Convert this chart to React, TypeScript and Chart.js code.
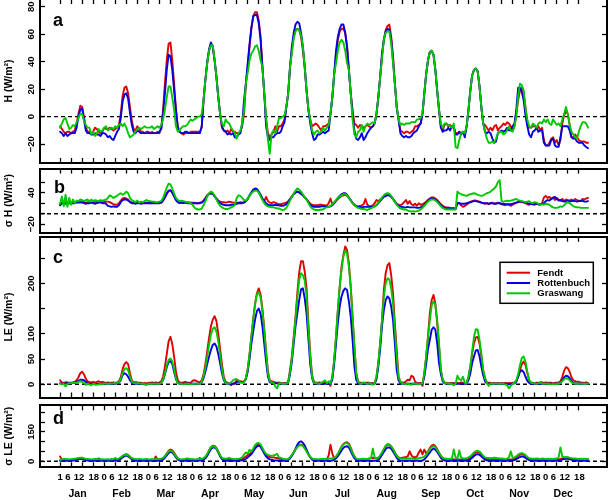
import React, { useEffect, useRef } from 'react';
import { Chart, registerables } from 'chart.js';

Chart.register(...registerables);

// ---------- categories / ticks ----------
const MONTHS = ['Jan', 'Feb', 'Mar', 'Apr', 'May', 'Jun', 'Jul', 'Aug', 'Sep', 'Oct', 'Nov', 'Dec'];
const HOUR_TICKS = [0, 6, 12, 18];
const HOUR_LABELS = ['0', '6', '12', '18'];
const SITES = ['Fendt', 'Rottenbuch', 'Graswang'];

// ---------- panel a: H (W/m2), hourly mean diurnal cycle per month ----------
const H_FENDT = [
  -7,-9,-11,-12,-11,-11,-12,-11,-10,-5,2,8,7,0,-8,-11,-11,-12,-11,-8,-9,-11,-12,-11,
  -8,-9,-9,-8,-9,-10,-9,-8,-6,2,15,21,22,17,7,-3,-9,-10,-7,-9,-11,-11,-12,-11,
  -11,-12,-11,-12,-12,-11,-12,-8,5,24,41,53,54,41,24,5,-7,-11,-12,-13,-12,-12,-12,-11,
  -11,-11,-11,-11,-11,-8,12,27,39,48,53,51,41,29,15,2,-8,-10,-11,-10,-12,-9,-11,-11,
  -12,-12,-11,-7,2,24,36,51,64,73,76,76,70,58,36,17,-2,-12,-15,-13,-11,-7,-11,-7,
  -7,-5,-2,7,17,36,48,58,63,64,63,58,48,36,19,5,-2,-7,-6,-5,-6,-8,-10,-7,
  -7,-6,-5,2,14,31,44,56,62,64,64,61,51,34,17,5,-5,-6,-8,-6,-7,-8,-7,-6,
  -7,-8,-7,-5,2,14,29,44,56,63,66,67,58,44,24,7,-2,-10,-11,-12,-11,-11,-12,-11,
  -10,-7,-7,-6,-5,2,17,31,41,47,48,45,34,19,5,-7,-10,-6,-5,-7,-6,-8,-7,-12,
  -12,-11,-12,-11,-13,-7,5,19,30,34,35,33,22,7,-5,-6,-8,-10,-8,-10,-7,-6,-10,-8,
  -7,-5,-6,-4,-5,-7,-10,-7,2,12,19,21,17,7,-5,-8,-8,-7,-7,-8,-7,-10,-8,-17,
  -21,-21,-19,-16,-15,-19,-17,-21,-17,-5,1,4,2,-6,-15,-15,-13,-15,-17,-18,-18,-18,-19,-19,
];
const H_ROTTENBUCH = [
  -11,-12,-14,-12,-14,-13,-12,-12,-12,-8,0,5,6,-2,-10,-12,-12,-13,-13,-12,-13,-13,-14,-12,
  -12,-13,-15,-14,-16,-17,-14,-11,-9,-1,11,16,17,13,3,-6,-11,-12,-10,-11,-12,-12,-12,-12,
  -12,-12,-12,-12,-12,-12,-11,-9,2,17,34,45,44,34,19,5,-8,-11,-12,-12,-11,-11,-12,-12,
  -12,-12,-12,-12,-12,-7,12,27,40,49,54,51,41,29,14,2,-7,-10,-11,-13,-12,-13,-12,-15,
  -15,-13,-12,-5,12,24,39,53,65,73,74,74,68,56,36,17,-7,-15,-17,-15,-15,-13,-12,-12,
  -11,-7,-4,7,17,36,51,61,67,69,68,61,51,36,19,5,-5,-12,-17,-16,-13,-13,-12,-11,
  -12,-11,-10,2,14,31,48,58,64,67,67,61,51,34,17,2,-10,-16,-17,-15,-12,-17,-15,-12,
  -10,-8,-7,-5,2,14,29,46,56,62,64,63,56,41,24,7,-2,-12,-14,-15,-14,-15,-15,-14,
  -12,-11,-10,-7,-5,2,17,31,41,47,48,45,34,19,5,-8,-11,-10,-10,-8,-10,-7,-8,-13,
  -13,-11,-13,-11,-15,-7,5,19,30,34,35,33,22,7,-5,-11,-12,-11,-12,-16,-19,-18,-12,-11,
  -10,-11,-10,-8,-10,-10,-7,-5,5,21,21,18,12,1,-7,-13,-15,-11,-10,-8,-11,-10,-10,-19,
  -21,-21,-21,-17,-16,-21,-22,-22,-15,-7,-7,-7,-7,-10,-15,-16,-16,-18,-19,-19,-19,-21,-22,-23,
];
const H_GRASWANG = [
  -8,-5,-2,-1,-5,-9,-8,-6,-7,-4,-1,2,2,-3,-6,-8,-8,-13,-11,-14,-12,-9,-11,-10,
  -8,-7,-10,-9,-8,-9,-7,-8,-6,-5,-7,-5,-8,-12,-15,-14,-13,-11,-9,-8,-9,-8,-7,-8,
  -8,-8,-7,-9,-8,-7,-8,-6,-2,5,14,22,22,14,5,-7,-11,-10,-8,-7,-7,-6,-4,-2,
  -3,-2,-1,0,0,2,12,27,39,48,52,52,42,29,14,2,-5,-7,-2,-4,-5,-8,-10,-12,
  -16,-12,-10,-5,5,24,32,41,46,48,51,52,48,41,36,17,0,-17,-27,-12,-10,-12,-7,-1,
  -1,0,1,7,17,36,46,57,62,64,63,59,51,36,19,5,-2,-10,-13,-11,-10,-12,-11,-8,
  -10,-8,-6,2,14,31,39,48,54,56,54,48,39,34,17,-2,-13,-15,-11,-10,-6,-11,-7,-5,
  -6,-5,-4,-5,2,14,29,42,56,61,62,62,53,39,24,7,-2,-6,-5,-6,-5,-5,-5,-4,
  -4,-4,-2,-2,-1,2,17,31,41,47,48,45,34,19,5,-5,-8,-5,-5,-6,-7,-8,-5,-22,
  -23,-17,-12,-11,-12,-7,5,19,30,34,35,33,22,7,-5,-11,-16,-19,-19,-18,-19,-16,-12,-11,
  -11,-13,-12,-10,-7,-10,-11,-7,0,15,24,23,19,6,-2,-7,-8,-5,-6,-8,-5,-4,-5,-2,
  -4,-2,-5,-6,-2,-4,-6,-5,-7,-2,2,7,2,-6,-11,-13,-15,-16,-11,-7,-4,-4,-5,-8,
];

// ---------- panel b: sigma H ----------
const SH_FENDT = [
  17,21,22,22,21,21,21,22,21,22,22,23,23,22,21,22,22,21,22,22,22,23,22,22,
  22,23,23,22,20,18,17,17,20,25,29,30,29,27,23,21,21,21,22,21,21,22,21,21,
  20,21,21,20,21,21,20,21,25,31,38,43,44,40,33,27,23,21,22,21,22,21,22,21,
  21,21,20,20,21,22,25,30,35,38,39,38,34,29,25,23,22,22,21,22,23,22,21,21,
  21,21,22,21,22,24,28,34,40,44,46,45,41,35,28,24,32,24,21,20,22,21,19,18,
  18,19,20,21,24,28,33,38,41,42,40,38,35,31,28,23,19,17,16,16,16,17,17,16,
  16,15,20,29,18,20,24,28,31,34,35,36,34,30,25,20,17,15,14,15,16,18,28,17,
  15,14,16,20,26,24,27,30,33,35,36,35,32,28,23,19,17,16,18,22,26,19,24,18,
  16,19,15,20,17,18,20,23,26,29,31,31,29,26,22,18,15,13,12,12,11,11,11,10,
  21,20,16,13,15,17,20,22,24,25,25,24,23,21,20,19,20,18,20,21,19,20,21,20,
  18,17,16,18,17,15,17,19,21,22,23,22,21,20,18,17,19,18,17,19,18,17,20,31,
  34,30,32,28,31,26,30,27,25,28,24,27,26,25,27,24,28,26,25,24,28,27,29,30,
];
const SH_ROTTENBUCH = [
  16,20,19,19,20,20,19,20,20,21,21,21,21,20,19,20,20,21,20,19,20,21,21,20,
  20,19,15,14,13,14,13,13,16,22,26,27,27,25,22,20,20,19,20,20,19,20,20,20,
  20,20,20,20,20,20,20,21,25,31,38,44,45,40,33,26,22,20,21,20,21,20,20,20,
  20,20,20,20,20,21,24,29,34,38,39,38,33,28,24,20,18,17,16,16,16,17,17,17,
  19,20,20,20,21,24,28,35,41,46,48,47,42,36,29,24,20,17,16,16,16,17,16,16,
  15,15,16,18,22,27,32,37,40,42,41,38,35,31,27,22,17,14,13,13,13,13,14,14,
  14,13,13,14,16,20,25,30,34,37,39,39,36,31,26,21,17,14,13,13,12,13,13,13,
  13,13,13,14,16,20,24,28,32,34,35,35,32,28,23,18,15,13,13,12,12,13,12,12,
  12,12,11,11,12,14,17,21,25,28,29,29,27,24,20,16,13,11,10,10,10,9,9,9,
  20,20,19,19,19,20,21,22,23,24,24,23,22,21,20,20,20,19,20,20,19,19,20,20,
  19,19,18,18,18,18,19,20,21,22,23,23,22,21,20,19,19,18,19,19,18,18,19,20,
  24,26,25,28,30,32,28,25,26,24,23,24,25,23,24,25,24,23,24,24,25,23,23,24,
];
const SH_GRASWANG = [
  19,33,14,36,13,30,17,27,20,25,24,27,26,24,26,27,23,27,24,26,25,24,26,25,
  26,27,30,35,33,30,32,34,37,39,36,38,42,39,30,26,24,22,25,21,23,22,24,26,
  24,24,23,23,22,22,23,24,30,40,50,57,56,48,38,30,26,24,25,24,23,22,21,20,
  17,12,9,8,8,10,16,24,33,39,42,40,34,27,20,15,12,10,9,9,10,12,14,16,
  30,35,34,30,26,25,28,34,39,42,44,44,40,33,26,20,16,14,13,12,12,11,10,10,
  8,7,8,11,18,25,32,38,44,48,46,42,37,31,27,20,14,10,8,7,7,7,8,8,
  11,12,13,15,18,22,26,30,33,35,37,37,35,30,25,20,16,13,11,10,9,9,8,7,
  9,10,12,14,17,21,26,31,35,38,39,38,34,28,22,17,13,10,9,8,8,6,5,4,
  5,4,5,6,8,11,15,19,23,26,27,27,25,22,18,14,11,9,8,8,8,8,8,8,
  42,39,37,36,35,34,36,37,38,39,38,36,35,34,35,37,39,40,42,45,48,52,60,64,
  24,23,24,25,24,25,26,27,28,26,25,24,23,22,23,24,21,20,22,21,19,17,18,17,
  19,18,17,14,12,11,11,12,14,13,16,20,22,20,17,14,13,12,12,11,11,11,11,11,
];

// ---------- panel c: LE ----------
const LE_FENDT = [
  8,4,3,4,4,3,3,4,5,8,14,22,25,20,11,6,4,4,5,3,5,6,4,5,
  4,3,4,3,3,4,3,4,6,14,30,40,44,40,22,8,4,4,4,3,3,2,3,2,
  3,3,4,3,4,3,4,6,15,35,60,85,94,80,55,25,8,4,3,4,5,4,3,3,
  7,8,7,5,4,8,20,40,65,92,115,128,135,125,100,70,40,15,5,3,2,-2,1,3,
  8,7,6,5,6,12,30,60,95,130,160,180,190,178,150,110,65,25,8,6,5,4,3,4,
  3,2,3,2,5,28,55,94,134,182,222,244,244,223,190,120,60,18,5,3,3,4,3,3,
  3,2,4,-3,15,48,94,147,193,233,256,273,266,240,193,134,75,22,5,3,3,2,3,3,
  3,2,2,3,15,42,81,127,187,220,236,240,216,180,121,68,15,5,4,3,6,9,8,17,
  15,5,3,2,3,-3,22,55,94,141,167,177,160,121,75,28,9,4,3,2,2,3,2,2,
  3,2,4,3,2,3,15,35,61,81,93,94,81,55,28,12,4,3,3,2,3,2,3,2,
  3,2,3,2,3,2,3,3,6,15,28,40,45,38,22,8,4,3,2,3,3,4,4,3,
  4,3,3,3,2,3,3,4,6,15,27,34,32,25,14,8,6,5,5,4,3,3,4,3,
];
const LE_ROTTENBUCH = [
  2,1,1,2,2,2,2,3,3,5,7,9,9,8,5,2,1,1,1,0,1,1,0,1,
  1,1,1,1,1,1,1,2,3,8,18,22,20,15,8,3,1,1,1,1,1,1,0,0,
  1,1,1,1,1,1,1,3,8,20,34,44,46,40,25,10,3,1,1,1,1,1,1,1,
  1,1,1,1,1,4,12,25,40,55,68,78,81,75,60,42,22,8,2,1,1,1,1,1,
  5,5,4,4,5,10,25,50,80,105,128,145,150,140,115,80,45,15,4,3,2,2,2,1,
  1,1,1,1,3,20,45,80,115,141,167,188,190,170,140,90,40,12,2,1,1,1,1,1,
  1,1,1,1,10,40,80,121,154,174,185,190,187,164,134,88,35,9,2,1,1,1,1,1,
  1,1,1,1,10,35,70,115,147,167,174,170,154,127,81,28,8,2,1,1,1,1,1,1,
  1,1,1,1,1,1,15,40,70,88,108,113,108,81,42,20,6,2,1,1,1,1,1,1,
  1,1,1,1,1,1,8,22,42,55,67,68,55,35,18,6,2,1,1,1,1,1,1,1,
  1,1,1,1,0,1,1,2,5,15,25,28,24,15,7,3,1,1,1,1,1,1,1,1,
  1,1,1,1,1,1,1,1,3,8,14,17,16,12,7,3,2,1,2,1,1,1,2,1,
];
const LE_GRASWANG = [
  1,0,1,-4,1,2,2,3,3,4,5,6,5,3,-1,1,0,-2,1,0,-1,0,1,0,
  2,1,1,2,1,2,2,3,4,10,22,30,32,28,15,5,3,2,2,2,1,1,1,-1,
  1,1,1,1,1,1,1,3,9,22,38,48,51,45,30,12,3,1,1,0,1,1,1,0,
  1,1,1,1,1,5,16,33,55,78,98,110,113,105,85,58,30,10,3,1,2,4,8,10,
  10,8,4,3,5,12,30,60,95,128,158,178,183,172,145,108,62,22,6,4,3,-4,-8,2,
  2,1,1,1,4,25,52,90,130,172,207,220,216,205,175,110,55,15,3,2,2,1,3,5,
  8,2,6,1,15,48,94,147,193,226,253,265,259,233,193,134,75,22,5,2,1,4,2,1,
  2,1,-1,2,15,42,81,127,174,200,210,207,190,160,108,55,15,5,2,1,0,2,0,-1,
  2,1,1,0,1,2,22,55,94,127,157,164,157,127,81,28,9,3,2,1,1,1,-2,1,
  17,10,8,15,3,2,15,35,65,94,109,108,88,61,28,12,3,-3,2,1,1,2,1,1,
  2,1,0,-2,-8,-3,1,3,8,20,38,52,55,45,25,8,3,2,2,1,2,3,2,1,
  1,1,1,0,1,0,1,1,3,6,10,12,11,8,4,2,1,1,2,1,1,1,1,1,
];

// ---------- panel d: sigma LE ----------
const SLE_FENDT = [
  25,8,6,6,7,6,7,8,9,12,15,17,16,13,10,8,7,6,7,8,10,15,8,7,
  7,6,7,6,6,7,8,9,12,18,26,33,37,33,24,15,10,8,7,7,6,7,6,6,
  8,7,8,7,25,9,8,10,15,25,40,54,60,56,44,28,15,9,7,7,8,7,8,7,
  8,7,8,7,17,9,12,20,35,55,72,80,78,68,50,30,15,9,8,10,9,8,9,8,
  8,9,10,12,18,25,32,38,45,58,72,82,85,78,62,45,32,25,22,20,20,18,17,15,
  12,10,9,8,10,18,30,45,60,75,84,85,80,68,52,35,22,12,9,8,8,7,8,8,
  9,10,30,85,40,15,20,35,55,75,88,95,97,90,70,45,25,12,9,8,9,8,9,9,
  15,16,18,17,16,18,28,42,60,76,85,84,76,62,45,30,20,16,18,20,22,25,51,30,
  22,20,25,45,60,35,60,40,50,68,80,85,78,62,44,28,16,12,10,9,10,9,10,9,
  10,9,8,9,10,9,12,18,28,38,46,48,44,34,24,16,12,10,9,10,11,10,9,10,
  9,8,8,9,8,9,10,14,20,28,34,37,34,27,18,12,10,9,8,9,10,9,8,9,
  9,10,9,8,9,10,9,10,12,15,18,20,19,16,13,11,10,9,10,11,10,9,10,9,
];
const SLE_ROTTENBUCH = [
  3,3,3,4,3,3,3,4,5,7,10,13,12,9,6,4,3,3,3,3,3,4,3,3,
  3,3,3,3,3,3,3,4,6,12,20,26,29,26,18,10,5,3,3,3,3,3,3,3,
  3,3,3,3,3,3,4,5,9,18,30,42,48,45,34,20,9,4,3,3,3,3,3,3,
  3,3,3,3,4,5,8,15,28,46,62,70,71,62,45,26,12,5,3,3,3,3,3,3,
  3,3,4,5,8,13,20,28,36,50,65,76,80,74,58,40,25,15,10,8,6,5,4,4,
  3,3,3,3,6,15,28,45,65,85,98,102,95,80,60,38,20,8,4,3,3,3,3,3,
  3,3,3,3,4,8,15,26,40,55,68,75,77,70,52,32,15,6,3,3,3,3,3,3,
  3,3,3,3,4,8,18,32,48,62,70,71,64,50,34,18,8,4,3,3,3,3,3,3,
  3,3,3,3,3,4,10,20,32,45,58,65,60,48,33,18,8,4,3,3,3,3,3,3,
  3,3,3,3,3,3,5,10,18,27,34,37,33,25,16,9,5,3,3,3,3,3,3,3,
  3,3,3,3,3,3,4,6,11,17,22,25,23,18,11,6,4,3,3,3,3,3,3,3,
  3,3,3,3,3,3,3,4,6,9,12,14,13,11,8,6,4,3,3,3,3,3,3,3,
];
const SLE_GRASWANG = [
  8,10,12,12,11,10,11,12,13,15,17,19,18,15,13,12,11,10,11,12,12,11,10,11,
  10,10,11,10,12,11,17,12,14,20,27,32,34,31,23,16,13,12,11,12,11,10,11,12,
  10,10,11,10,12,11,12,13,17,26,38,50,54,51,40,25,14,11,10,11,12,15,13,12,
  11,10,10,11,12,13,16,24,38,56,71,77,75,65,48,30,18,14,13,15,17,14,12,11,
  12,13,15,20,35,45,40,59,50,65,82,92,94,86,68,50,38,33,30,28,30,32,38,20,
  18,14,12,10,12,20,32,46,60,73,81,82,78,66,50,34,22,14,12,11,10,11,12,12,
  12,12,13,14,15,18,25,38,55,72,86,92,94,86,66,42,24,14,12,11,12,13,12,12,
  12,15,65,20,14,18,30,45,63,80,88,86,77,62,44,28,18,15,14,15,13,14,15,14,
  13,12,14,16,18,20,24,34,48,62,72,77,72,58,42,28,18,14,13,12,13,13,60,20,
  14,55,20,14,15,16,20,26,35,45,52,54,50,40,28,20,18,17,16,17,18,17,16,15,
  14,13,12,14,20,51,18,20,26,34,40,42,39,32,22,16,14,13,13,14,13,12,14,13,
  12,13,12,13,12,14,13,20,71,25,20,22,21,18,16,14,15,13,12,13,12,13,12,12,
];

// ---------- axis tick values ----------
const TICKS_A = [-20, 0, 20, 40, 60, 80];
const TICKS_B = [-20, 0, 20, 40, 60];
const TICKS_C = [0, 50, 100, 150, 200, 250];
const TICKS_D = [0, 50, 100, 150, 200, 250];
const LABELS_A = [-20, 0, 20, 40, 60, 80];
const LABELS_B = [-20, 40];
const LABELS_C = [0, 50, 100, 200];
const LABELS_D = [0, 150];

// ---------- styling / layout ----------
const COLORS: Record<string, string> = { Fendt: '#DD0000', Rottenbuch: '#0000E0', Graswang: '#00C800' };
const FONT = '"Liberation Sans", Arial, Helvetica, sans-serif';
const W = 610;
const H = 500;
const PAD = 10; // canvas is shifted up by PAD px
const AREA_LEFT = 40;
const AREA_RIGHT = 607;
const X_MIN = -10.9;
const X_MAX = 297.3;
const X_TICKS = MONTHS.flatMap((_, m) => HOUR_TICKS.map((h) => m * 24 + h));
// where the hour labels sit inside each month (as in the original print)
const HOUR_LABEL_POS = [0, 4.2, 10.3, 18.3];
const X_LABEL_VALUES = MONTHS.flatMap((_, m) => HOUR_LABEL_POS.map((o) => m * 24 + o));
const X_LABEL_TEXT = MONTHS.flatMap((_, m) => HOUR_LABELS.map((t, k) => (m === 0 && k === 0 ? '1' : t)));
const MONTH_LABEL_POS = 9.5;

type Panel = {
  id: string; title: string; top: number; bottom: number; min: number; max: number;
  ticks: number[]; labels: number[]; series: number[][]; letter: [number, number];
  xLabels: boolean; legend: boolean;
};

const PANELS: Panel[] = [
  { id: 'a', title: 'H (W/m²)', top: -1, bottom: 163, min: -33.7, max: 85.6, ticks: TICKS_A, labels: LABELS_A,
    series: [H_FENDT, H_ROTTENBUCH, H_GRASWANG], letter: [53, 25.7], xLabels: false, legend: false },
  { id: 'b', title: 'σ H (W/m²)', top: 168.5, bottom: 232.7, min: -36.2, max: 86.1, ticks: TICKS_B, labels: LABELS_B,
    series: [SH_FENDT, SH_ROTTENBUCH, SH_GRASWANG], letter: [54, 193.3], xLabels: false, legend: false },
  { id: 'c', title: 'LE (W/m²)', top: 236.7, bottom: 397.5, min: -26.1, max: 292.3, ticks: TICKS_C, labels: LABELS_C,
    series: [LE_FENDT, LE_ROTTENBUCH, LE_GRASWANG], letter: [53, 263.3], xLabels: false, legend: true },
  { id: 'd', title: 'σ LE (W/m²)', top: 405.3, bottom: 467.3, min: -30.6, max: 285.7, ticks: TICKS_D, labels: LABELS_D,
    series: [SLE_FENDT, SLE_ROTTENBUCH, SLE_GRASWANG], letter: [53, 423.7], xLabels: true, legend: false },
];

const fmt = (v: number) => (v < 0 ? '\u2212' + Math.abs(v) : String(v));

function axisBase(min: number, max: number, tickVals: number[]) {
  return {
    type: 'linear' as const,
    min,
    max,
    afterBuildTicks: (s: any) => { s.ticks = tickVals.map((v) => ({ value: v })); },
    grid: { display: true, drawOnChartArea: false, drawTicks: true, tickLength: -5, tickWidth: 1.3, tickColor: '#000', color: '#000' },
    border: { display: true, color: '#000', width: 2 },
  };
}

function buildConfig(p: Panel): any {
  const order = [2, 1, 0]; // Graswang drawn on top, then Rottenbuch, then Fendt
  const datasets: any[] = order.map((k) => ({
    label: SITES[k],
    data: p.series[k].map((y, i) => ({ x: i, y })),
    borderColor: COLORS[SITES[k]],
    backgroundColor: COLORS[SITES[k]],
    borderWidth: 1.9,
    pointRadius: 0,
    tension: 0,
    fill: false,
    borderJoinStyle: 'round',
    borderCapStyle: 'round',
    xAxisID: 'x',
    yAxisID: 'y',
  }));
  datasets.push({
    label: 'zero',
    data: [{ x: X_MIN, y: 0 }, { x: X_MAX, y: 0 }],
    borderColor: '#000',
    borderWidth: 1.4,
    borderDash: [4, 3],
    pointRadius: 0,
    fill: false,
    xAxisID: 'x',
    yAxisID: 'y',
  });

  const decor = {
    id: 'decor_' + p.id,
    afterDraw(chart: any) {
      const ctx = chart.ctx;
      const sy = chart.scales.y;
      const sx = chart.scales.x;
      ctx.save();
      ctx.fillStyle = '#000';
      // y tick labels (rotated, R style)
      ctx.font = `bold 9.5px ${FONT}`;
      ctx.textAlign = 'center';
      ctx.textBaseline = 'middle';
      p.labels.forEach((v) => {
        const y = sy.getPixelForValue(v);
        ctx.save();
        ctx.translate(31.7, y);
        ctx.rotate(-Math.PI / 2);
        ctx.fillText(fmt(v), 0, 0);
        ctx.restore();
      });
      // month labels under the hour labels
      if (p.xLabels) {
        ctx.font = `bold 10.5px ${FONT}`;
        MONTHS.forEach((m, i) => {
          ctx.fillText(m, sx.getPixelForValue(i * 24 + MONTH_LABEL_POS), 494 + PAD);
        });
      }
      // panel letter
      ctx.font = `bold 18px ${FONT}`;
      ctx.textAlign = 'left';
      ctx.textBaseline = 'alphabetic';
      ctx.fillText(p.id, p.letter[0], p.letter[1] + PAD);
      // legend
      if (p.legend) {
        const lx = 500, ly = 262.3 + PAD, lw = 93.3, lh = 41;
        ctx.fillStyle = '#fff';
        ctx.fillRect(lx, ly, lw, lh);
        ctx.strokeStyle = '#000';
        ctx.lineWidth = 1.5;
        ctx.strokeRect(lx, ly, lw, lh);
        ctx.font = `bold 9.5px ${FONT}`;
        ctx.textBaseline = 'middle';
        SITES.forEach((s, i) => {
          const y = ly + 10.4 + i * 10.3;
          ctx.strokeStyle = COLORS[s];
          ctx.lineWidth = 2;
          ctx.beginPath();
          ctx.moveTo(506.7, y);
          ctx.lineTo(530, y);
          ctx.stroke();
          ctx.fillStyle = '#000';
          ctx.fillText(s, 537.3, y + 0.5);
        });
      }
      ctx.restore();
    },
  };

  return {
    type: 'line',
    data: { datasets },
    options: {
      animation: false,
      responsive: false,
      devicePixelRatio: 1,
      events: [],
      layout: { padding: 0 },
      plugins: { legend: { display: false }, tooltip: { enabled: false }, title: { display: false } },
      scales: {
        x: {
          ...axisBase(X_MIN, X_MAX, X_TICKS),
          position: 'bottom',
          weight: 0,
          afterFit: (s: any) => { s.height = p.xLabels ? 0 : H - p.bottom; },
          ticks: { display: false },
        },
        ...(p.xLabels
          ? {
              xLab: {
                type: 'linear',
                min: X_MIN,
                max: X_MAX,
                position: 'bottom',
                weight: 1,
                afterBuildTicks: (s: any) => { s.ticks = X_LABEL_VALUES.map((v) => ({ value: v })); },
                afterFit: (s: any) => { s.height = H - p.bottom; },
                grid: { display: false, drawTicks: false },
                border: { display: false },
                ticks: {
                  display: true,
                  autoSkip: false,
                  maxRotation: 0,
                  minRotation: 0,
                  padding: 4.7,
                  color: '#000',
                  font: { family: FONT, size: 9.5, weight: 'bold' },
                  callback: (_v: number, i: number) => X_LABEL_TEXT[i],
                },
              },
            }
          : {}),
        xTop: {
          ...axisBase(X_MIN, X_MAX, X_TICKS),
          position: 'top',
          afterFit: (s: any) => { s.height = p.top + PAD; },
          ticks: { display: false },
        },
        y: {
          ...axisBase(p.min, p.max, p.ticks),
          position: 'left',
          afterFit: (s: any) => { s.width = AREA_LEFT; },
          ticks: { display: false },
          title: {
            display: true,
            text: p.title,
            color: '#000',
            font: { family: FONT, size: 10.5, weight: 'bold' },
            padding: { top: 3, bottom: 0 },
          },
        },
        yR: {
          ...axisBase(p.min, p.max, p.ticks),
          position: 'right',
          afterFit: (s: any) => { s.width = W - AREA_RIGHT; },
          ticks: { display: false },
        },
      },
    },
    plugins: [decor],
  };
}

function PanelChart({ panel }: { panel: Panel }) {
  const ref = useRef<HTMLCanvasElement | null>(null);
  useEffect(() => {
    if (!ref.current) return;
    const chart = new Chart(ref.current, buildConfig(panel));
    return () => chart.destroy();
  }, [panel]);
  return (
    <canvas
      ref={ref}
      width={W}
      height={H + PAD}
      style={{ position: 'absolute', left: 0, top: -PAD, width: W, height: H + PAD }}
    />
  );
}

export default function App() {
  return (
    <div style={{ position: 'fixed', left: 0, top: 0, width: W, height: H, overflow: 'hidden', background: '#fff' }}>
      {PANELS.map((p) => (
        <PanelChart key={p.id} panel={p} />
      ))}
    </div>
  );
}
